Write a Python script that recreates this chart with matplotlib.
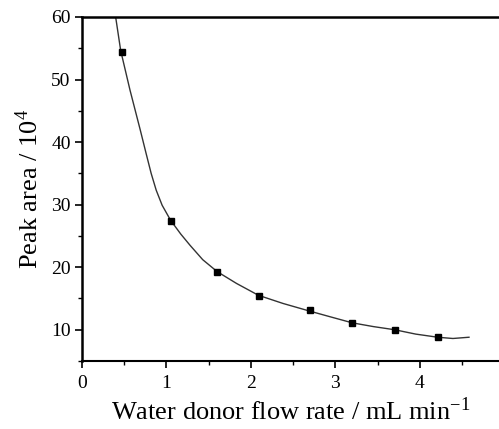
import matplotlib.pyplot as plt
from matplotlib.ticker import MultipleLocator

# measured points
flow = [0.47, 1.05, 1.60, 2.10, 2.70, 3.20, 3.71, 4.21]
area = [54.4, 27.4, 19.2, 15.4, 13.1, 11.0, 10.0, 8.8]

# fitted curve
fit_x = [0.40, 0.46, 0.57, 0.69, 0.76, 0.82, 0.88, 0.95, 1.05, 1.17, 1.28,
         1.43, 1.60, 1.83, 2.09, 2.38, 2.69, 2.93, 3.20, 3.45, 3.70, 3.95,
         4.21, 4.39, 4.58]
fit_y = [60.0, 54.6, 48.3, 42.0, 38.2, 35.0, 32.3, 29.9, 27.5, 25.3, 23.5,
         21.2, 19.3, 17.4, 15.5, 14.2, 13.0, 12.1, 11.1, 10.5, 10.0, 9.3,
         8.8, 8.6, 8.8]

plt.rcParams['font.family'] = ['Liberation Serif', 'DejaVu Serif']
plt.rcParams['mathtext.fontset'] = 'stix'

fig = plt.figure(figsize=(4.99, 4.29), dpi=100)
ax = fig.add_axes([0.164, 0.1585, 0.836, 0.8019])

ax.plot(fit_x, fit_y, color="#333333", lw=1.0)
ax.plot(flow, area, ls="none", marker="s", ms=5, color="black")

ax.set_xlim(0, 4.935)
ax.set_ylim(5, 60)
ax.xaxis.set_major_locator(MultipleLocator(1))
ax.xaxis.set_minor_locator(MultipleLocator(0.5))
ax.yaxis.set_major_locator(MultipleLocator(10))
ax.yaxis.set_minor_locator(MultipleLocator(5))
ax.set_yticks([10, 20, 30, 40, 50, 60])
ax.tick_params(which="major", direction="out", length=5, width=1.2, labelsize=14, pad=3)
ax.tick_params(which="minor", direction="out", length=3, width=1.0)
ax.tick_params(axis="x", pad=5)

ax.spines["right"].set_visible(False)
ax.spines["left"].set_linewidth(1.8)
ax.spines["top"].set_linewidth(1.8)
ax.spines["bottom"].set_linewidth(1.5)

ax.set_xlabel("Water donor flow rate / mL min$^{\\mathregular{-1}}$", fontsize=19, labelpad=4)
ax.set_ylabel("Peak area / 10$^{\\mathregular{4}}$", fontsize=19, labelpad=6)

fig.savefig("out.png", dpi=100)
